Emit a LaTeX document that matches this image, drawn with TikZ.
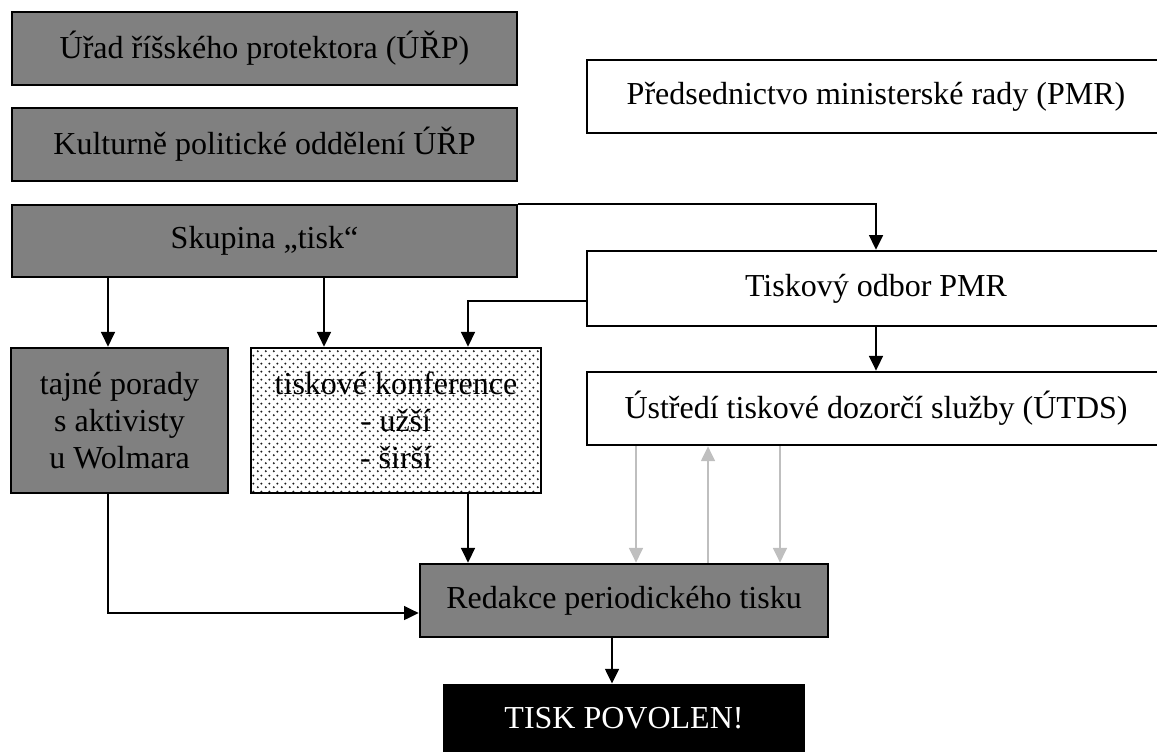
\documentclass[tikz,border=0pt]{standalone}
\usepackage{fontspec}
\setmainfont{Liberation Serif}
\usepackage{tikz}
\usetikzlibrary{arrows.meta}
\usetikzlibrary{calc}
\usetikzlibrary{positioning}
\usetikzlibrary{patterns}
\pgfdeclarepatternformonly{fine dots}{\pgfpointorigin}{\pgfpoint{3pt}{3pt}}{\pgfpoint{3pt}{3pt}}{%
	\pgfpathcircle{\pgfpoint{0.75pt}{0.75pt}}{0.45pt}%
	\pgfpathcircle{\pgfpoint{2.25pt}{2.25pt}}{0.45pt}%
	\pgfusepath{fill}}

\begin{document}
\begin{tikzpicture}[
	x=0.375pt, y=-0.375pt,
	every node/.style={font=\fontsize{12}{13.8}\selectfont, inner sep=0pt, align=center},
  > = {Triangle[length=5.5pt,width=5.2pt]},
  box/.style = {draw, line width=1pt, rectangle},
  grey/.style = {box, fill=black!50},
  blank/.style = {box, fill=white},
  dotted box/.style = {box, pattern=fine dots, pattern color=black!90},
  wide/.style = {minimum width=189.4pt, minimum height=27.4pt},
  side/.style = {minimum width=216.75pt, minimum height=27.4pt},
  link/.style = {line width=0.75pt},
  feed/.style = {draw=black!25, line width=0.6pt}
  ]
	\useasboundingbox (0,0) rectangle (1157,752);
	\clip (0,0) rectangle (1157,752);

	\node[grey,wide] (urad) at (264.5,48.5) {Úřad říšského protektora (ÚŘP)};
	\node[grey,wide] (kult) at (264.5,144.5) {Kulturně politické oddělení ÚŘP};
	\node[grey,wide,minimum height=27pt] (skup) at (264.5,241) {Skupina „tisk“};

	\node[blank,side] (pmr) at (876,96.5) {Předsednictvo ministerské rady (PMR)};
	\node[blank,side,minimum height=28.1pt] (odbor) at (876,288.5) {Tiskový odbor PMR};
	\node[blank,side] (utds) at (876,408.5) {Ústředí tiskové dozorčí služby (ÚTDS)};

	\node[grey,minimum width=81.4pt,minimum height=54.4pt] (tajne) at (119.5,420.5) {tajné porady\\ s aktivisty\\ u Wolmara};
	\node[dotted box,minimum width=108.75pt,minimum height=54.4pt] (konf) at (396,420.5) {tiskové konference\\ - užší\\ - širší};

	\node[grey,minimum width=153pt,minimum height=27.4pt] (redakce) at (624,600.5) {Redakce periodického tisku};
	\node[fill=black,text=white,minimum width=135.75pt,minimum height=25.5pt] (povolen) at (624,718) {TISK POVOLEN!};

	\draw[link,->] (skup.south -| 108,0) -- (tajne.north -| 108,0);
	\draw[link,->] (skup.south -| 324,0) -- (konf.north -| 324,0);
	\draw[link,->] (skup.north east) -| (odbor.north);
	\draw[link,->] (odbor.west |- 0,301) -| (konf.north -| 468,0);
	\draw[link,->] (odbor) -- (utds);
	\draw[link,->] (konf.south -| 468,0) -- (redakce.north -| 468,0);
	\draw[link,->] (tajne.south -| 108,0) |- (redakce.west |- 0,613);
	\draw[link,->] (redakce.south -| 612,0) -- (povolen.north -| 612,0);

	\draw[feed,->] (utds.south -| 636,0) -- (redakce.north -| 636,0);
	\draw[feed,<-] (utds.south -| 708,0) -- (redakce.north -| 708,0);
	\draw[feed,->] (utds.south -| 780,0) -- (redakce.north -| 780,0);

\end{tikzpicture}
\end{document}
